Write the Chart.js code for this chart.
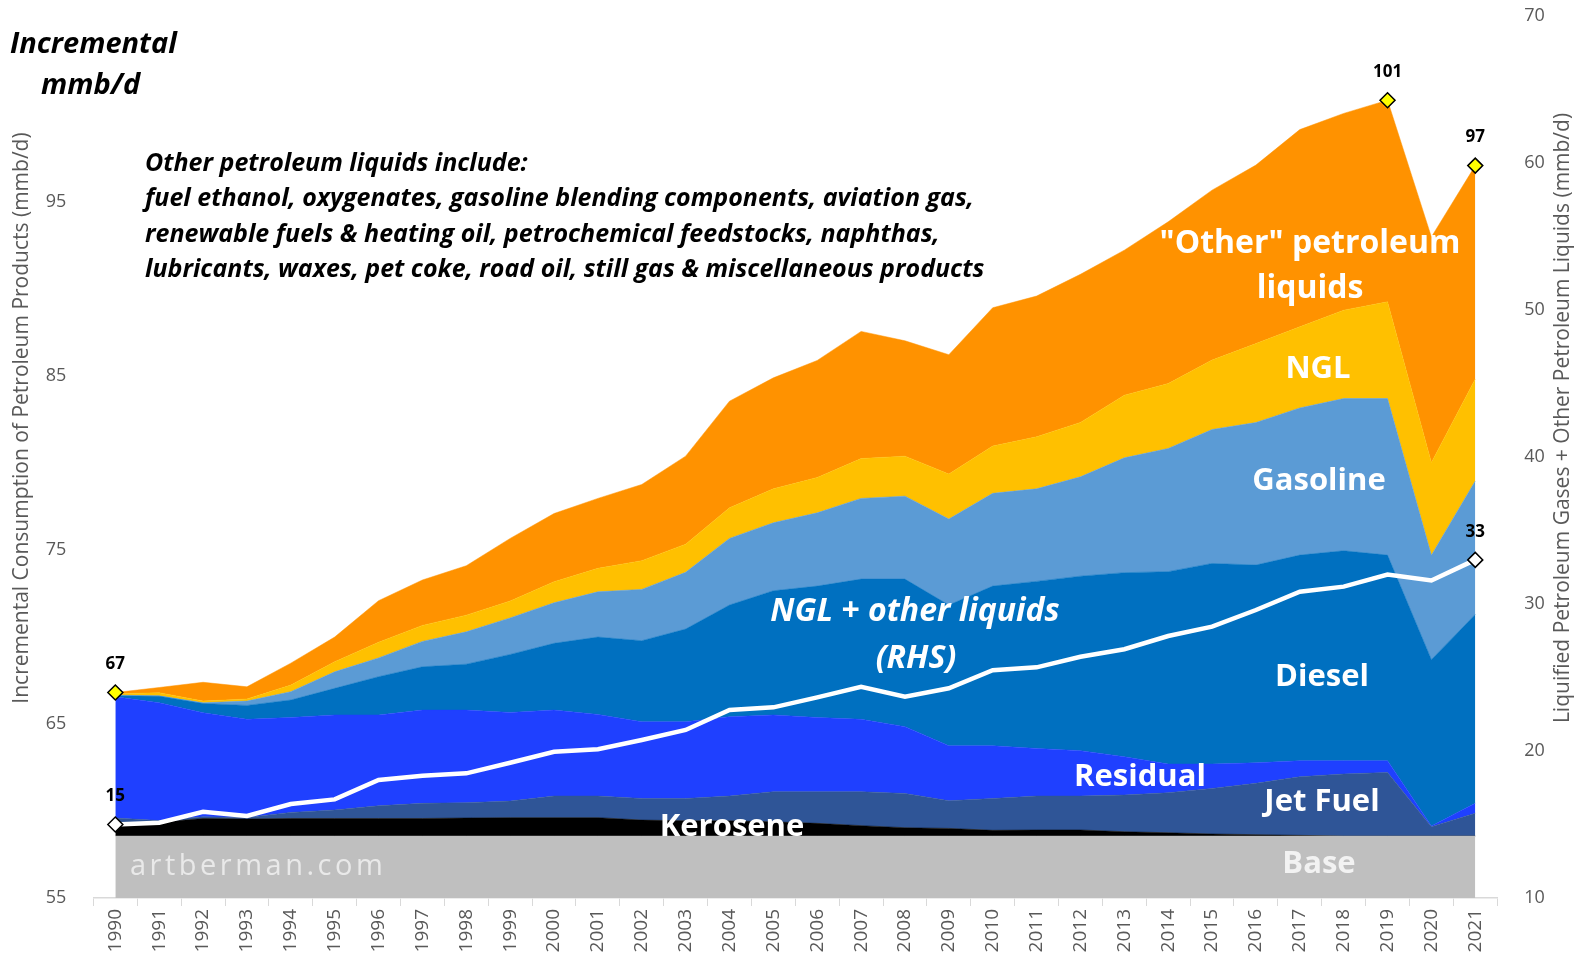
<!DOCTYPE html>
<html>
<head>
<meta charset="utf-8">
<title>Incremental consumption of petroleum products</title>
<script src="https://cdn.jsdelivr.net/npm/chart.js@4.4.1/dist/chart.umd.min.js"></script>
<style>
  body { margin: 0; background: #fff; }
  canvas { display: block; }
</style>
</head>
<body>
<canvas id="myChart" width="1585" height="958"></canvas>
<script>
// years on the x axis
var years = ["1990","1991","1992","1993","1994","1995","1996","1997","1998","1999",
             "2000","2001","2002","2003","2004","2005","2006","2007","2008","2009",
             "2010","2011","2012","2013","2014","2015","2016","2017","2018","2019",
             "2020","2021"];

// stacked areas, mmb/d (left axis)
var base = [58.56,58.56,58.56,58.56,58.56,58.56,58.56,58.56,58.56,58.56,
            58.56,58.56,58.56,58.56,58.56,58.56,58.56,58.56,58.56,58.56,
            58.56,58.56,58.56,58.56,58.56,58.56,58.56,58.56,58.56,58.56,
            58.56,58.56];
var kerosene = [0.74,0.79,1.01,0.98,1.01,1.01,1.01,1.01,1.04,1.06,1.06,1.06,0.92,0.88,0.88,0.82,
                0.73,0.60,0.48,0.44,0.33,0.35,0.35,0.25,0.19,0.12,0.08,0.04,0,0,0,0];
var jetFuel = [0.30,0.10,0.10,0.09,0.35,0.49,0.73,0.87,0.88,0.95,1.24,1.24,1.24,1.28,1.42,1.73,
               1.82,1.95,1.97,1.59,1.83,1.95,1.95,2.11,2.30,2.62,2.95,3.37,3.57,3.66,0.54,1.31];
var residual = [6.97,6.77,5.98,5.64,5.46,5.46,5.22,5.36,5.32,5.10,4.94,4.69,4.41,4.41,4.56,4.41,
                4.27,4.16,3.84,3.16,3.03,2.74,2.61,2.20,1.65,1.40,1.18,0.92,0.76,0.67,0.04,0.57];
var diesel = [0.05,0.38,0.53,0.80,1.00,1.53,2.20,2.49,2.64,3.33,3.84,4.45,4.66,5.33,6.42,7.14,
              7.55,8.06,8.48,8.09,9.18,9.60,10.03,10.58,11.06,11.53,11.37,11.82,12.07,11.82,9.56,10.86];
var gasoline = [0.04,0.02,0.04,0.25,0.48,0.95,1.08,1.46,1.86,2.10,2.33,2.60,2.95,3.26,3.83,3.91,
                4.21,4.64,4.77,4.94,5.33,5.32,5.71,6.60,7.08,7.70,8.19,8.46,8.75,9.00,6.00,7.67];
var ngl = [0.08,0.18,0.10,0.12,0.38,0.58,0.90,0.92,0.96,0.97,1.21,1.35,1.65,1.62,1.76,1.95,
           2.03,2.29,2.30,2.59,2.72,2.99,3.13,3.60,3.73,3.99,4.54,4.66,5.08,5.56,5.34,5.86];
var otherLiquids = [0.07,0.30,1.08,0.70,1.26,1.42,2.39,2.61,2.84,3.60,3.92,4.02,4.38,5.06,6.13,6.38,
                    6.73,7.31,6.63,6.86,7.95,8.09,8.51,8.34,9.30,9.77,10.26,11.34,11.31,11.59,12.96,12.27];

// NGL + other liquids line, mmb/d (right axis)
var nglPlusOther = [15.0,15.12,15.87,15.58,16.39,16.71,18.03,18.32,18.48,19.2,
                    19.95,20.12,20.75,21.43,22.79,22.97,23.65,24.37,23.7,24.27,
                    25.5,25.69,26.41,26.92,27.82,28.46,29.59,30.84,31.18,32.0,
                    31.6,33.0];

// axis ticks
var leftTicks = [55, 65, 75, 85, 95];
var leftRange = [55, 105.7];
var rightTicks = [10, 20, 30, 40, 50, 60, 70];

// points that get a diamond and a value label
var totalMarks = [0, 29, 31];
var lineMarks = [0, 31];

var areaSeries = [base, kerosene, jetFuel, residual, diesel, gasoline, ngl, otherLiquids];
var areaColors = ["#BFBFBF", "#000000", "#2F5597", "#1F40FF", "#0070C0", "#5B9BD5", "#FFC000", "#FF9200"];
var areaNames = ["Base", "Kerosene", "Jet Fuel", "Residual", "Diesel", "Gasoline", "NGL", "Other"];

var total = years.map(function (y, i) {
  var s = 0;
  areaSeries.forEach(function (a) { s += a[i]; });
  return s;
});

function radiusAt(marks, r) {
  return years.map(function (y, i) { return marks.indexOf(i) >= 0 ? r : 0; });
}

var grey = "#595959";
Chart.defaults.font.family = "'Open Sans', sans-serif";
Chart.defaults.color = grey;

var datasets = [
  {
    label: "Total",
    data: total,
    yAxisID: "y",
    stack: "total",
    showLine: false,
    fill: false,
    pointStyle: "rectRot",
    pointRadius: radiusAt(totalMarks, 7.5),
    pointBackgroundColor: "#FFFF00",
    pointBorderColor: "#000",
    pointBorderWidth: 1.5
  },
  {
    label: "NGL + other liquids (RHS)",
    data: nglPlusOther,
    yAxisID: "y1",
    fill: false,
    borderColor: "#FFFFFF",
    borderWidth: 4.5,
    tension: 0,
    pointStyle: "rectRot",
    pointRadius: radiusAt(lineMarks, 7.5),
    pointBackgroundColor: "#FFFFFF",
    pointBorderColor: "#000",
    pointBorderWidth: 1.5
  }
];

areaSeries.forEach(function (arr, k) {
  datasets.push({
    label: areaNames[k],
    data: arr,
    yAxisID: "y",
    stack: "areas",
    fill: k === 0 ? "origin" : "-1",
    backgroundColor: areaColors[k],
    borderColor: areaColors[k],
    borderWidth: 0.5,
    pointRadius: 0,
    tension: 0
  });
});

function text(c, str, x, y, font, color, align) {
  c.font = font;
  c.fillStyle = color;
  c.textAlign = align || "center";
  c.textBaseline = "middle";
  c.fillText(str, x, y);
}

// no extra room above/below the y axes, the plot runs to the top tick
function noPad(s) {
  s.paddingTop = 0;
  s.paddingBottom = 0;
}

var labelsPlugin = {
  id: "labels",
  afterDatasetsDraw: function (chart) {
    var c = chart.ctx;
    c.save();

    // series names inside the areas
    var big = "bold 31px 'Open Sans'";
    text(c, "\"Other\" petroleum", 1310, 244, "bold 32px 'Open Sans'", "#fff");
    text(c, "liquids", 1310, 289, "bold 32px 'Open Sans'", "#fff");
    text(c, "NGL", 1318, 369, big, "#fff");
    text(c, "Gasoline", 1319, 481, big, "#fff");
    text(c, "Diesel", 1322, 677, big, "#fff");
    text(c, "Residual", 1140, 777, big, "#fff");
    text(c, "Jet Fuel", 1322, 802, big, "#fff");
    text(c, "Base", 1319, 864, big, "#F2F2F2");
    text(c, "Kerosene", 732, 827, "bold 31px 'Open Sans'", "#fff");
    text(c, "NGL + other liquids", 915, 612, "italic bold 32px 'Open Sans'", "#fff");
    text(c, "(RHS)", 916, 659, "italic bold 32px 'Open Sans'", "#fff");

    // watermark
    c.letterSpacing = "3.5px";
    text(c, "artberman.com", 130, 867, "29px 'Open Sans'", "#E9E9E9", "left");
    c.letterSpacing = "0px";

    // value labels over the diamonds
    var mt = chart.getDatasetMeta(0);
    totalMarks.forEach(function (i) {
      var p = mt.data[i];
      text(c, String(Math.round(total[i])), p.x, p.y - 28, "bold 17px 'Open Sans'", "#000");
    });
    var ml = chart.getDatasetMeta(1);
    lineMarks.forEach(function (i) {
      var p = ml.data[i];
      text(c, String(Math.round(nglPlusOther[i])), p.x, p.y - 28, "bold 17px 'Open Sans'", "#000");
    });

    // headings
    text(c, "Incremental", 10, 45, "italic bold 29px 'Open Sans'", "#000", "left");
    text(c, "mmb/d", 41, 86, "italic bold 29px 'Open Sans'", "#000", "left");

    var note = [
      "Other petroleum liquids include:",
      "fuel ethanol, oxygenates, gasoline blending components, aviation gas,",
      "renewable fuels & heating oil, petrochemical feedstocks, naphthas,",
      "lubricants, waxes, pet coke, road oil, still gas & miscellaneous products"
    ];
    note.forEach(function (line, i) {
      text(c, line, 145, 164 + i * 35.3, "italic bold 25px 'Open Sans'", "#000", "left");
    });

    // axis titles
    c.translate(22, 418);
    c.rotate(-Math.PI / 2);
    text(c, "Incremental Consumption of Petroleum Products (mmb/d)", 0, 0, "21px 'Open Sans'", grey);
    c.setTransform(1, 0, 0, 1, 0, 0);
    c.translate(1563, 418);
    c.rotate(-Math.PI / 2);
    text(c, "Liquified Petroleum Gases + Other Petroleum Liquids (mmb/d)", 0, 0, "21px 'Open Sans'", grey);

    c.restore();
  }
};

var ctx = document.getElementById("myChart");
var myChart = new Chart(ctx, {
  type: "line",
  data: { labels: years, datasets: datasets },
  options: {
    responsive: false,
    animation: false,
    layout: { padding: { top: 16, left: 0, right: 0, bottom: 0 } },
    plugins: {
      legend: { display: false },
      tooltip: { enabled: false }
    },
    scales: {
      x: {
        offset: true,
        grid: { display: true, drawOnChartArea: false, drawTicks: true, tickLength: 8, offset: true, color: "#D9D9D9" },
        border: { display: true, color: "#D9D9D9", width: 1.5 },
        ticks: { minRotation: 90, maxRotation: 90, autoSkip: false, padding: 3, font: { size: 19 }, color: grey },
        afterFit: function (s) { s.height = 60; }
      },
      y: {
        position: "left",
        stacked: true,
        min: leftRange[0],
        max: leftRange[1],
        grid: { display: false },
        border: { display: false },
        ticks: { padding: 19, font: { size: 18 }, color: grey },
        afterBuildTicks: function (s) { s.ticks = leftTicks.map(function (v) { return { value: v }; }); },
        afterFit: function (s) { s.width = 93.4; noPad(s); }
      },
      y1: {
        position: "right",
        stacked: false,
        min: rightTicks[0],
        max: rightTicks[rightTicks.length - 1],
        grid: { display: false },
        border: { display: false },
        ticks: { stepSize: 10, padding: 19, font: { size: 18 }, color: grey },
        afterBuildTicks: function (s) { s.ticks = rightTicks.map(function (v) { return { value: v }; }); },
        afterFit: function (s) { s.width = 87.8; noPad(s); }
      }
    }
  },
  plugins: [labelsPlugin]
});
</script>
</body>
</html>
